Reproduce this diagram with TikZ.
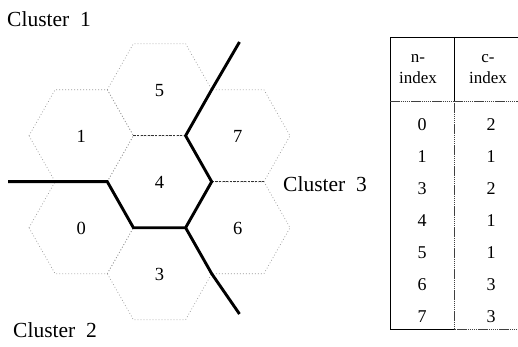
\documentclass[tikz,border=0pt]{standalone}
\usepackage{fontspec}
\setmainfont{Liberation Serif}
\begin{document}
\begin{tikzpicture}[x=1pt,y=-1pt,
  hexedge/.style={gray!80, line width=0.7pt, dash pattern=on 0.8pt off 2.2pt},
  inneredge/.style={gray!40!black, line width=0.8pt, dash pattern=on 2.2pt off 1.4pt},
  border/.style={black, line width=2.9pt, line join=miter},
  cellnum/.style={inner sep=0pt, font=\fontsize{18.5}{21}\selectfont},
  clusterlbl/.style={inner sep=0pt, anchor=base west, font=\fontsize{21.5}{24}\selectfont},
  tabtxt/.style={inner sep=0pt, font=\fontsize{18}{21}\selectfont},
  tabhead/.style={inner sep=0pt, align=center, font=\fontsize{17}{21}\selectfont},
  tabline/.style={black, line width=0.9pt},
  tabsoft/.style={gray!50!black, line width=0.7pt, dash pattern=on 1.5pt off 0.6pt}]
\useasboundingbox (0,0) rectangle (518,347);

% hexagonal cells: side 52.2, half height 46
\def\hs{52.2}\def\hh{26.1}\def\hv{46}
\foreach \n/\cx/\cy in {4/159.5/181.7, 5/159.5/89.7, 3/159.5/273.7,
                        1/81.2/135.7, 0/81.2/227.7, 7/237.8/135.7, 6/237.8/227.7} {
  \draw[hexedge] (\cx-\hs,\cy) -- (\cx-\hh,\cy-\hv) -- (\cx+\hh,\cy-\hv)
     -- (\cx+\hs,\cy) -- (\cx+\hh,\cy+\hv) -- (\cx-\hh,\cy+\hv) -- cycle;
  \node[cellnum] (cell\n) at (\cx,\cy+1) {\n};
}

% edges shared by cells of the same cluster
\coordinate (c4ul) at (133.4,135.7);
\coordinate (c4ur) at (185.6,135.7);
\coordinate (c4r)  at (211.7,181.7);
\coordinate (c4l)  at (107.3,181.7);
\coordinate (c4ll) at (133.4,227.7);
\coordinate (c4lr) at (185.6,227.7);
\coordinate (c7ll) at (263.9,181.7);
\coordinate (c5r)  at (211.7,89.7);
\coordinate (c3r)  at (211.7,273.7);
\coordinate (endw) at (8,181.7);
\coordinate (endne) at (239.5,42);
\coordinate (endse) at (239.5,314);
\draw[inneredge] (c4ul) -- (c4ur);
\draw[inneredge] (c4r) -- (c7ll);

% cluster boundaries
\draw[border] (endw) -- (c4l) -- (c4ll) -- (c4lr) -- (c4r) -- (c4ur) -- (c5r) -- (endne);
\draw[border] (c4lr) -- (c3r) -- (endse);

% cluster labels
\node[clusterlbl] (cl1) at (7,27) {Cluster\hspace{0.5em}1};
\node[clusterlbl] (cl2) at (13,337) {Cluster\hspace{0.5em}2};
\node[clusterlbl] (cl3) at (283,191) {Cluster\hspace{0.5em}3};

% table of node and cluster indices
\coordinate (tl) at (390,37);
\coordinate (tm) at (454,37);
\coordinate (tr) at (518,37);
\coordinate (hl) at (390,101);
\coordinate (hm) at (454,101);
\coordinate (hr) at (518,101);
\coordinate (bl) at (390,329);
\coordinate (bm) at (454,329);
\coordinate (br) at (518,329);
\draw[tabline] (tr) -- (tl) -- (bl) -- (bm);
\draw[tabline] (tm) -- (hm);
\draw[tabsoft] (hl) -- (hr);
\draw[tabsoft] (hm) -- (bm) -- (br);

\node[tabhead] (h1) at (418,69) {n-\\index};
\node[tabhead] (h2) at (488,69) {c-\\index};
\foreach \i/\a/\b in {0/0/2, 1/1/1, 2/3/2, 3/4/1, 4/5/1, 5/6/3, 6/7/3} {
  \node[tabtxt] (n\i) at (422,125+32*\i) {\a};
  \node[tabtxt] (c\i) at (491,125+32*\i) {\b};
}
\end{tikzpicture}
\end{document}
